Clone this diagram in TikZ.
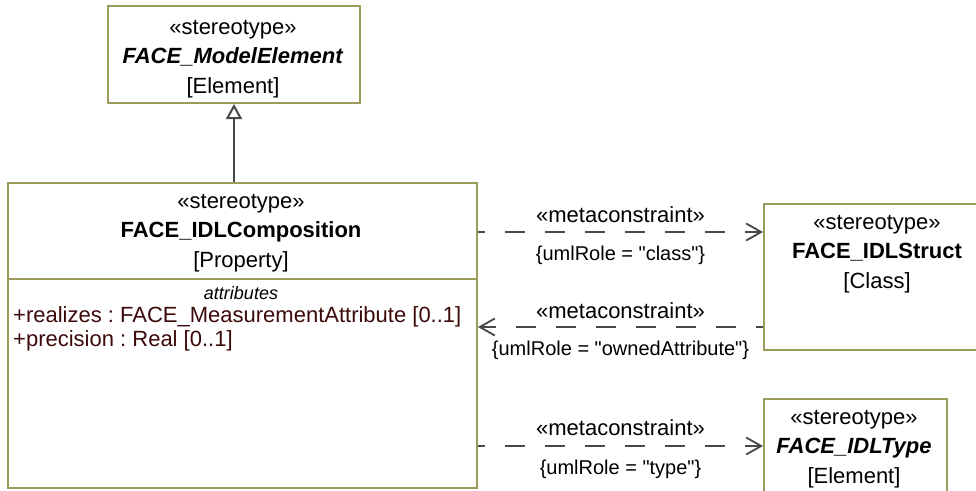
\documentclass[tikz,border=0pt]{standalone}
\usepackage{fontspec}
\setmainfont{Liberation Sans}[Ligatures=TeXOff]
\usetikzlibrary{arrows.meta,positioning}
\definecolor{umlborder}{RGB}{156,156,90}
\definecolor{umlline}{RGB}{72,72,72}
\definecolor{attrtext}{RGB}{60,10,10}
\frenchspacing

\begin{document}
\begin{tikzpicture}[x=1pt,y=-1pt,>=Latex,
  umlclass/.style={draw=umlborder,line width=2pt,fill=white,inner sep=0pt,anchor=north west},
  headtext/.style={align=center,font=\fontsize{22}{29.5}\selectfont,inner sep=0pt},
  attrline/.style={text=attrtext,font=\fontsize{22}{24}\selectfont,inner sep=0pt,anchor=base west},
  metalink/.style={->,umlline,line width=1.8pt,dash pattern=on 20pt off 20pt,dash phase=13pt,
    >={Straight Barb[length=15pt,width=17pt]}},
  linklabel/.style={text=black,font=\fontsize{22}{26}\selectfont,inner sep=0pt},
  rolelabel/.style={text=black,font=\fontsize{20}{24}\selectfont,inner sep=0pt}]
  \clip (0,0) rectangle (976,490);
  \fill[white] (0,0) rectangle (976,490);

  \node[umlclass,minimum width=252pt,minimum height=97pt] (modelelement) at (107,5) {};
  \node[headtext] (modelelementname) at (233,59)
    {«stereotype»\\\textbf{\textit{FACE\_ModelElement}}\\{[Element]}};

  \node[umlclass,minimum width=469pt,minimum height=96pt] (composition) at (7,182) {};
  \node[umlclass,minimum width=469pt,minimum height=209pt] (compattrs) at (7,278) {};
  \node[headtext] (compositionname) at (241,233)
    {«stereotype»\\\textbf{FACE\_IDLComposition}\\{[Property]}};
  \node[font=\fontsize{18}{20}\selectfont\itshape,inner sep=0pt] (attrtitle) at (241,293) {attributes};
  \node[attrline] (realizesattr) at (13,322) {+realizes : FACE\_MeasurementAttribute [0..1]};
  \node[attrline] (precisionattr) at (13,346) {+precision : Real [0..1]};

  \node[umlclass,minimum width=220pt,minimum height=146pt] (idlstruct) at (763,203) {};
  \node[headtext] (idlstructname) at (877,254)
    {«stereotype»\\\textbf{FACE\_IDLStruct}\\{[Class]}};

  \node[umlclass,minimum width=183pt,minimum height=100pt] (idltype) at (763,398) {};
  \node[headtext] (idltypename) at (854,449)
    {«stereotype»\\\textbf{\textit{FACE\_IDLType}}\\{[Element]}};

  \draw[umlline,line width=2pt,-{Triangle[open,length=15pt,width=16pt,fill=white]}]
    (composition.north -| modelelement.south) -- (modelelement.south);

  \coordinate (classrow) at (0,232);
  \coordinate (ownedrow) at (0,327);
  \coordinate (typerow) at (0,446);
  \draw[metalink] (composition.east |- classrow) -- (idlstruct.west |- classrow)
    node[linklabel,midway,above=8pt] (classstereo) {«metaconstraint»}
    node[rolelabel,midway,below=13pt] (classrole) {\{umlRole = "class"\}};
  \draw[metalink] (idlstruct.west |- ownedrow) -- (compattrs.east |- ownedrow)
    node[linklabel,midway,above=7pt] (ownedstereo) {«metaconstraint»}
    node[rolelabel,midway,below=13pt] (ownedrole) {\{umlRole = "ownedAttribute"\}};
  \draw[metalink] (compattrs.east |- typerow) -- (idltype.west |- typerow)
    node[linklabel,midway,above=9pt] (typestereo) {«metaconstraint»}
    node[rolelabel,midway,below=13pt] (typerole) {\{umlRole = "type"\}};
\end{tikzpicture}
\end{document}
